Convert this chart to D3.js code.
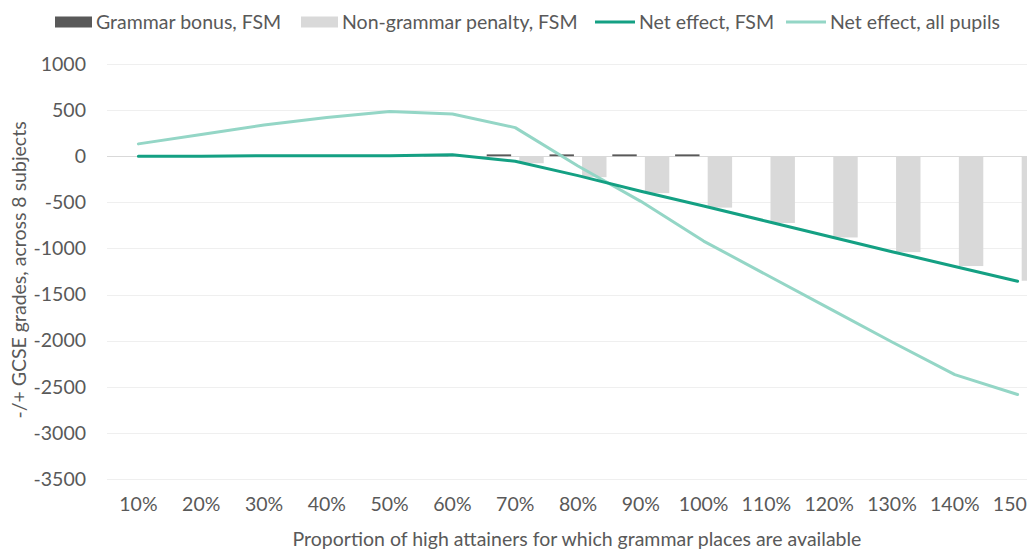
<!DOCTYPE html>
<html>
<head>
<meta charset="utf-8">
<script src="https://cdn.jsdelivr.net/npm/d3@7"></script>
<style>
  body { margin: 0; background: #fff; }
  svg { display: block; font-family: Lato, "Noto Sans", sans-serif; }
</style>
</head>
<body>
<div id="chart"></div>
<script>
// categories along the x axis
const categories = ["10%", "20%", "30%", "40%", "50%", "60%", "70%", "80%", "90%", "100%", "110%", "120%", "130%", "140%", "150%"];

// bar series
const grammarBonus = [0, 0, 0, 0, 0, 15, 20, 20, 20, 20, 0, 0, 0, 0, 0];
const nonGrammarPenalty = [0, 0, 0, 0, 0, 0, -76, -227, -400, -557, -724, -881, -1040, -1191, -1350];

// line series
const netFSM = [0, 0, 5, 5, 5, 15, -55, -210, -380, -540, -705, -870, -1035, -1195, -1355];
const netAll = [134, 235, 339, 421, 486, 458, 310, -106, -489, -920, -1285, -1650, -2014, -2368, -2584];

const yTicks = [1000, 500, 0, -500, -1000, -1500, -2000, -2500, -3000, -3500];

const W = 1027, H = 550;
const textColor = "#595959";
const fontSize = "19.5px";

const svg = d3.select("#chart").append("svg")
    .attr("width", W)
    .attr("height", H);

const x = d3.scaleBand().domain(categories).range([107, 1049]);
const y = d3.scaleLinear().domain([-3500, 1000]).range([479, 64]);

// two bars per category, bonus on the left, penalty on the right
const barKeys = ["bonus", "penalty"];
const x1 = d3.scaleBand().domain(barKeys).range([-28.5, 28.5]).paddingInner(0.25);
const barColor = { bonus: "#595959", penalty: "#d9d9d9" };

// gridlines
svg.append("g")
    .selectAll("line")
    .data(yTicks)
    .join("line")
    .attr("x1", 107)
    .attr("x2", 1049)
    .attr("y1", d => Math.round(y(d)) + 0.5)
    .attr("y2", d => Math.round(y(d)) + 0.5)
    .attr("stroke", d => d === 0 ? "#d9d9d9" : "#efefef")
    .attr("stroke-width", 1);

// y axis labels (no domain line, no ticks), plain hyphen for minus
const yAxis = svg.append("g")
    .attr("transform", "translate(86,0)")
    .call(d3.axisLeft(y).tickValues(yTicks).tickSize(0).tickPadding(0).tickFormat(d => String(d)));
yAxis.select(".domain").remove();
yAxis.selectAll("text")
    .attr("fill", textColor)
    .attr("font-size", fontSize)
    .attr("font-family", "Lato, sans-serif");

// x axis labels
const xAxis = svg.append("g")
    .attr("transform", "translate(0,497)")
    .call(d3.axisBottom(x).tickSize(0).tickPadding(0));
xAxis.select(".domain").remove();
xAxis.selectAll("text")
    .attr("fill", textColor)
    .attr("font-size", fontSize)
    .attr("font-family", "Lato, sans-serif");

// bars
const barData = [];
categories.forEach((c, i) => {
    barData.push({ cat: c, key: "bonus", value: grammarBonus[i] });
    barData.push({ cat: c, key: "penalty", value: nonGrammarPenalty[i] });
});

svg.append("g")
    .selectAll("rect")
    .data(barData)
    .join("rect")
    .attr("x", d => x(d.cat) + x.bandwidth() / 2 + x1(d.key))
    .attr("width", x1.bandwidth())
    .attr("y", d => y(Math.max(0, d.value)))
    .attr("height", d => Math.abs(y(d.value) - y(0)))
    .attr("fill", d => barColor[d.key]);

// lines
const line = d3.line()
    .x((d, i) => x(categories[i]) + x.bandwidth() / 2)
    .y(d => y(d));

svg.append("path")
    .datum(netAll)
    .attr("d", line)
    .attr("fill", "none")
    .attr("stroke", "#94d6c6")
    .attr("stroke-width", 3)
    .attr("stroke-linejoin", "round")
    .attr("stroke-linecap", "round");

svg.append("path")
    .datum(netFSM)
    .attr("d", line)
    .attr("fill", "none")
    .attr("stroke", "#14a083")
    .attr("stroke-width", 3)
    .attr("stroke-linejoin", "round")
    .attr("stroke-linecap", "round");

// axis titles
svg.append("text")
    .attr("transform", "translate(19,270) rotate(-90)")
    .attr("text-anchor", "middle")
    .attr("dy", "0.35em")
    .attr("fill", textColor)
    .attr("font-size", fontSize)
    .text("-/+ GCSE grades, across 8 subjects");

svg.append("text")
    .attr("x", 577)
    .attr("y", 539)
    .attr("text-anchor", "middle")
    .attr("dy", "0.35em")
    .attr("fill", textColor)
    .attr("font-size", fontSize)
    .text("Proportion of high attainers for which grammar places are available");

// legend
const legendItems = [
    { label: "Grammar bonus, FSM", type: "rect", color: "#595959", x: 55 },
    { label: "Non-grammar penalty, FSM", type: "rect", color: "#d9d9d9", x: 301 },
    { label: "Net effect, FSM", type: "line", color: "#14a083", x: 595 },
    { label: "Net effect, all pupils", type: "line", color: "#94d6c6", x: 786 }
];

const legend = svg.append("g");
legendItems.forEach(item => {
    const g = legend.append("g").attr("transform", "translate(" + item.x + ",22)");
    if (item.type === "rect") {
        g.append("rect")
            .attr("x", 0).attr("y", -5.5)
            .attr("width", 37).attr("height", 11)
            .attr("fill", item.color);
    } else {
        g.append("line")
            .attr("x1", 0).attr("x2", 40)
            .attr("y1", 0).attr("y2", 0)
            .attr("stroke", item.color)
            .attr("stroke-width", 3);
    }
    g.append("text")
        .attr("x", item.type === "rect" ? 41 : 44)
        .attr("dy", "0.35em")
        .attr("fill", textColor)
        .attr("font-size", fontSize)
        .text(item.label);
});
</script>
</body>
</html>
